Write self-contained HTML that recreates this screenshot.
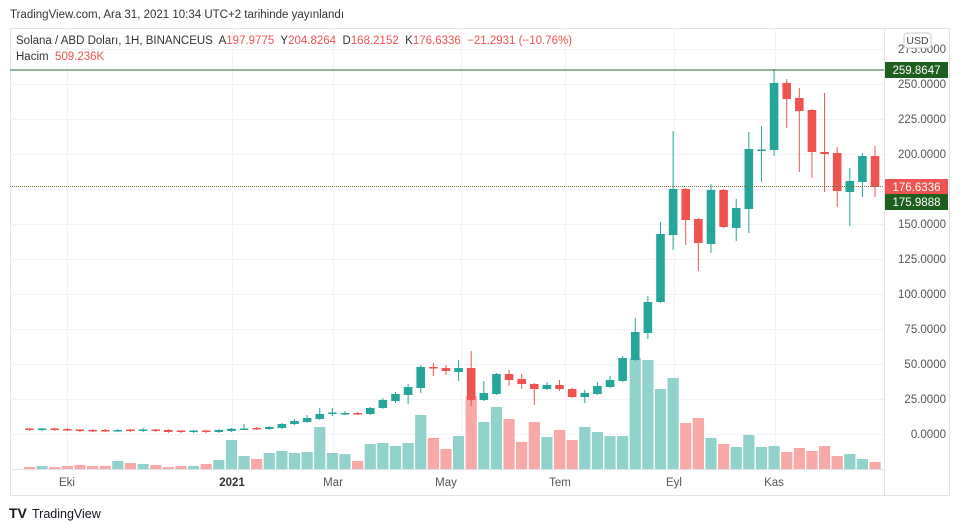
<!DOCTYPE html>
<html><head><meta charset="utf-8"><style>
body{margin:0;background:#fff;width:960px;height:529px;overflow:hidden;font-family:"Liberation Sans",sans-serif;}
svg{position:absolute;left:0;top:0}
</style></head><body>
<svg id="s" width="960" height="529" xmlns="http://www.w3.org/2000/svg" font-family="Liberation Sans, sans-serif">
<rect x="0" y="0" width="960" height="529" fill="#fff"/>
<text x="10" y="18" font-size="11.5" fill="#333">TradingView.com, Ara 31, 2021 10:34 UTC+2 tarihinde yayınlandı</text>
<rect x="10.5" y="28.5" width="939" height="467" fill="#fff" stroke="#e0e3eb"/>
<g id="grid" stroke="#f0f3fa" stroke-width="1"></g>
<line x1="884.5" y1="28" x2="884.5" y2="495" stroke="#e0e3eb"/>
<line x1="10" y1="469.5" x2="884" y2="469.5" stroke="#e0e3eb"/>
<g id="vol"></g>
<g id="cdl"></g>
<line x1="10" y1="70" x2="884" y2="70" stroke="#2e6b2e" stroke-width="1"/>
<line x1="10" y1="186.5" x2="884" y2="186.5" stroke="#7a7a40" stroke-width="1" stroke-dasharray="1,1"/>
<g id="ax" font-size="11.5" fill="#555"></g>
<rect x="904" y="33" width="27" height="15" rx="3" fill="#fff" stroke="#ccc"/>
<text x="917.5" y="44" font-size="10.5" fill="#444" text-anchor="middle">USD</text>
<rect x="885" y="62" width="63" height="16" fill="#1d5f1d"/>
<text x="916.5" y="74" font-size="11.5" fill="#fff" text-anchor="middle">259.8647</text>
<rect x="885" y="179" width="63" height="15" fill="#ef5350"/>
<text x="916.5" y="191" font-size="11.5" fill="#fff" text-anchor="middle">176.6336</text>
<rect x="885" y="194" width="63" height="16" fill="#1d5f1d"/>
<text x="916.5" y="206" font-size="11.5" fill="#fff" text-anchor="middle">175.9888</text>
<text x="16" y="44" font-size="11.5" fill="#333" xml:space="preserve">Solana / ABD Doları, 1H, BINANCEUS  A<tspan fill="#ef5350">197.9775</tspan>  Y<tspan fill="#ef5350">204.8264</tspan>  D<tspan fill="#ef5350">168.2152</tspan>  K<tspan fill="#ef5350">176.6336</tspan>  <tspan fill="#ef5350">−21.2931 (−10.76%)</tspan></text>
<text x="16" y="60" font-size="11.5" fill="#333" xml:space="preserve">Hacim  <tspan fill="#ef5350">509.236K</tspan></text>
<g font-size="11.5" fill="#555" text-anchor="middle">
<text x="67" y="486">Eki</text>
<text x="232" y="486" font-weight="bold" fill="#333">2021</text>
<text x="333" y="486">Mar</text>
<text x="446" y="486">May</text>
<text x="560" y="486">Tem</text>
<text x="674" y="486">Eyl</text>
<text x="774" y="486">Kas</text>
</g>
<text x="9" y="518" font-size="14" font-weight="bold" fill="#131722">TV</text>
<text x="32" y="518" font-size="12.5" fill="#131722">TradingView</text>
</svg>
<script>
var NS="http://www.w3.org/2000/svg";
function el(p,t,a){var e=document.createElementNS(NS,t);for(var k in a)e.setAttribute(k,a[k]);document.getElementById(p).appendChild(e);return e;}
var levels=[275,250,225,200,175,150,125,100,75,50,25,0];
levels.forEach(function(v){var y=434-1.4*v;el("grid","line",{x1:10,x2:884,y1:y+0.5,y2:y+0.5});
 var t=el("ax","text",{x:946,y:y+4,"text-anchor":"end"});t.textContent=v.toFixed(4);});
[67,232,333,461,565,674,775].forEach(function(x){el("grid","line",{x1:x+0.5,x2:x+0.5,y1:28,y2:469});});
var G="#26a69a",R="#ef5350";
var vt=[467,466,467,466,465,466,466,461,463,464,465,467,466,466,464,460,440,456,459,453,451,453,452,427,453,454,461,444,443,446,443,415,438,449,436,396,422,407,419,442,422,437,430,440,427,432,436,436,358,360,389,378,423,418,438,444,447,435,447,446,452,448,451,446,456,454,459,462];
var vc="rgrrrrrgrgrrrgrgggrgggggggrgggggrrgrggrrrgrrggggggggrrgrggggrrrrrggr".split("");
var c=[
["r",428.5,430,428,431],["g",428.5,430,428,431],["r",428.5,430,428,431],["r",429,430.5,428,431],["r",429.5,431,429,432],["r",430,431.5,429,432],["r",430,431.5,429,432],["g",430,431.5,429,432],["r",429.5,431,429,432],["g",429.5,431,428,432],["r",429.5,431,429,432],["r",430,432,429,433],["r",430.5,432,430,433],["g",430.5,432,430,433],["r",430.5,432,430,433],
["g",430,432,429,433],["g",428.7,431,428,432],["g",428.5,429.5,424,430],["r",428,429,427,430],["g",427,429,426,430],["g",424,428,423,429],["g",421,424,419,425],["g",418,422,415,423],["g",414,419,408,420],["g",412.5,413.5,408,416],["g",413,414,411,415],["r",413,414,412,415],["g",408,414,407,415],["g",400,408,398,409],["g",394,401,392,403],["g",387,395,384,404],
["g",367,388,365,393],["r",367,368,363,376],["r",368,371,365,375],["g",368,372,360,381],["r",368,400,351,406],["g",393,400,381,401],["g",374,394,373,395],["r",374,380,370,386],["r",379,384,374,389],["r",384,389,383,405],["g",385,389,382,390],["r",385,389,380,391],["r",389,397,388,398],["g",393,397,390,403],["g",386,394,382,395],["g",380,387,376,388],["g",358,381,356,382],
["g",332,360,318,361],["g",302,333,296,339],["g",234,302,222,303],["g",189,235,131,250],["r",189,220,188,245],["r",219,243,218,271],["g",190,244,184,253],["r",190,227,189,228],["g",208,228,199,241],["g",149,209,132,233],["g",149.5,150.5,126,182],["g",83,150,69,156],["r",83,99,79,128],["r",98,111,88,172],["r",110,152,109,178],["r",152,154,93,192],["r",153,191,147,207],["g",181,192,168,226],["g",156,182,153,197],["r",156,187,146,197]];
var sp=12.62;
for(var i=0;i<68;i++){var x=29.5+i*sp;
 el("vol","rect",{x:x-5.6,y:vt[i],width:11.2,height:469-vt[i],fill:vc[i]=="g"?"#92d2cc":"#f7a9a7"});
 var d=c[i],col=d[0]=="g"?G:R;
 el("cdl","line",{x1:x,x2:x,y1:d[3],y2:d[4],stroke:col,"stroke-width":1});
 el("cdl","rect",{x:x-4.3,y:d[1],width:8.6,height:Math.max(1.5,d[2]-d[1]),fill:col});
}
</script>
</body></html>
